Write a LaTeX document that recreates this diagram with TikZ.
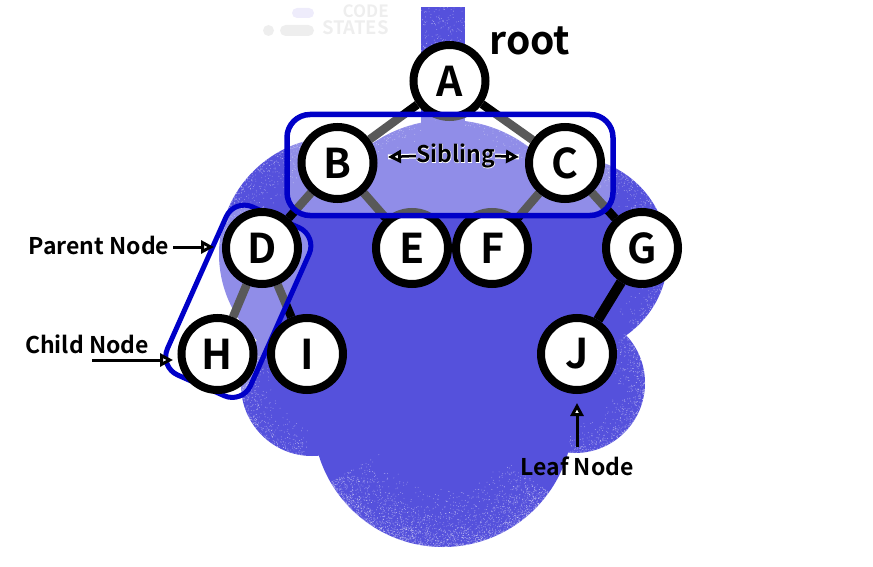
\documentclass[tikz,border=0pt]{standalone}
\usepackage{fontspec}
\setmainfont{Noto Sans CJK KR}[BoldFont={* Bold}]
\newfontfamily\halofont{Noto Sans CJK KR}[BoldFont={* Bold},BoldFeatures={FakeBold=3}]
\usetikzlibrary{arrows.meta}
\definecolor{blobc}{HTML}{5551DC}
\definecolor{boxc}{HTML}{0000C8}
\definecolor{logoc}{HTML}{EEEEEE}
\definecolor{logop}{HTML}{EEECFB}
\pgfdeclarelayer{blobl}\pgfdeclarelayer{edgel}\pgfdeclarelayer{lowl}\pgfdeclarelayer{boxl}
\pgfsetlayers{blobl,edgel,lowl,boxl,main}
\tikzset{
 treenode/.style={circle,draw=black,fill=white,line width=8pt,minimum size=72pt,inner sep=0pt,
   font=\fontsize{41}{41}\selectfont\bfseries},
 treeedge/.style={line width=8.5pt,black},
 groupbox/.style={draw=boxc,fill=white,fill opacity=.35,draw opacity=1},
 labeltext/.style={font=\fontsize{23}{24}\selectfont\bfseries,inner sep=0pt},
 callout/.style={line width=3pt,black,-{Triangle[open,fill=white,length=13pt,width=13pt,line width=3pt]}},
 logotext/.style={text=logoc,font=\fontsize{17}{12}\selectfont\bfseries,inner sep=0pt,anchor=east,text height=9pt,text depth=0pt},
}
\begin{document}
\begin{tikzpicture}[x=1pt,y=-1pt]
\useasboundingbox (0,0) rectangle (873,567);
% logo
\fill[logop,rounded corners=5pt] (292,8) rectangle (314,18);
\fill[logoc] (268.5,30.5) circle (5.5);
\fill[logoc,rounded corners=5.5pt] (280,25) rectangle (314,36);
\node[logotext] (logoa) at (389,13.5) {CODE};
\node[logotext,font=\fontsize{18.5}{12}\selectfont\bfseries] (logob) at (389,30.5) {STATES};
% blob
\begin{pgfonlayer}{blobl}
\fill[blobc] (421,7) rectangle (465,140);
\fill[blobc] (448,254) circle (134);
\fill[blobc] (336,254) circle (117);
\fill[blobc] (312,385) circle (71);
\fill[blobc] (570,255) circle (98);
\fill[blobc] (575,383) circle (70);
\fill[blobc] (443,417) circle (130);
\fill[blobc] (350,250) rectangle (560,420);
\begin{scope}
\clip (421,7) rectangle (465,140) (448,254) circle (134) (336,254) circle (117) (312,385) circle (71)
      (570,255) circle (98) (575,383) circle (70) (443,417) circle (130);
\pgfmathsetseed{4242}
\foreach \cx/\cy/\rr/\sa/\ea/\cnt/\dep in {
  443/417/130/35/150/2400/.45,
  336/254/117/185/285/700/.35,
  312/385/71/95/210/500/.50,
  570/255/98/-70/50/500/.30,
  575/383/70/-45/95/600/.45,
  448/254/134/215/325/200/.15}{
  \foreach \i in {1,...,\cnt}{
    \pgfmathsetmacro\ang{\sa+rnd*(\ea-\sa)}
    \pgfmathsetmacro\dd{\rr*(1-\dep*rnd*rnd)}
    \fill[white,opacity=.5] ({\cx+\dd*cos(\ang)},{\cy+\dd*sin(\ang)}) circle (.42);
  }
}
\foreach \i in {1,...,200}{
  \pgfmathsetmacro\px{421+44*rnd}
  \pgfmathsetmacro\py{7+60*rnd}
  \fill[white,opacity=.5] (\px,\py) circle (.42);
}
\end{scope}
\end{pgfonlayer}
% nodes under the translucent boxes
\begin{pgfonlayer}{lowl}
\node[treenode] (A) at (449.5,81) {A};
\node[treenode] (E) at (412,248) {E};
\node[treenode] (F) at (492,248) {F};
\node[treenode] (G) at (642,248) {G};
\node[treenode] (J) at (577,354) {J};
\end{pgfonlayer}
% boxes
\begin{pgfonlayer}{boxl}
\draw[groupbox,line width=5.5pt,rounded corners=23pt] (287,114.5) rectangle (613,215.5);
\draw[groupbox,line width=5pt,rounded corners=20pt,rotate around={-24:(238.3,301.3)}]
   (192.8,209.3) rectangle (283.8,393.3);
\end{pgfonlayer}
% nodes above
\node[treenode] (B) at (337.5,163) {B};
\node[treenode] (C) at (565,163) {C};
\node[treenode] (D) at (262,248) {D};
\node[treenode] (H) at (217.5,354) {H};
\node[treenode] (I) at (307,354) {I};
% edges
\begin{pgfonlayer}{edgel}
\draw[treeedge] (A) -- (B);
\draw[treeedge] (A) -- (C);
\draw[treeedge] (B) -- (D);
\draw[treeedge] (B) -- (E);
\draw[treeedge] (C) -- (F);
\draw[treeedge] (C) -- (G);
\draw[treeedge] (D) -- (H);
\draw[treeedge] (D) -- (I);
\draw[treeedge,line width=10pt] (G) -- (J);
\end{pgfonlayer}
% labels
\node[font=\fontsize{39}{39}\selectfont\bfseries,inner sep=0pt] (root) at (530,41) {root};
\node[labeltext] (parent) at (99,245) {Parent Node};
\node[labeltext] (child) at (87,344) {Child Node};
\node[labeltext] (leaf) at (577,466) {Leaf Node};
\node[labeltext,font=\fontsize{23}{24}\selectfont\bfseries] (sib) at (455.5,156)
  {\rlap{\color{white}\halofont\bfseries Sibling}Sibling};
% callouts
\coordinate (parenttail) at (173,247);
\coordinate (parenttip) at (214,247);
\coordinate (childtail) at (92,360);
\coordinate (childtip) at (173,360);
\coordinate (leaftail) at (577,447);
\coordinate (leaftip) at (577,403);
\coordinate (sibl) at (388,157);
\coordinate (sibr) at (519,157);
\draw[callout] (parenttail) -- (parenttip);
\draw[callout] (childtail) -- (childtip);
\draw[callout] (leaftail) -- (leaftip);
\draw[line width=5pt,white] (sib.west) -- (sibl);
\draw[line width=5pt,white] (sib.east) -- (sibr);
\draw[callout,line width=2.5pt] (sib.west) -- (sibl);
\draw[callout,line width=2.5pt] (sib.east) -- (sibr);
\end{tikzpicture}
\end{document}
